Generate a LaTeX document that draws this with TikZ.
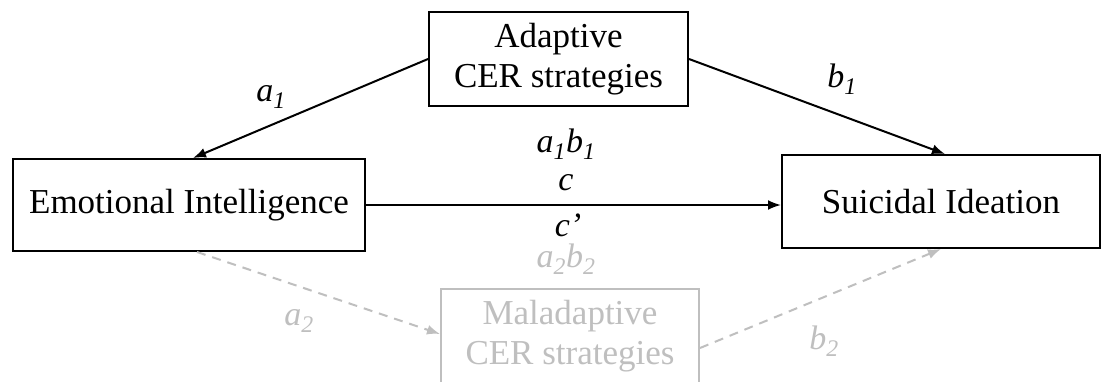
\documentclass[tikz,border=0pt]{standalone}
\usepackage{fontspec}
\setmainfont{Liberation Serif}
\usetikzlibrary{arrows.meta,calc}
\definecolor{lightg}{HTML}{BFBFBF}
\tikzset{
  box/.style={draw, line width=2pt, align=center, inner sep=0pt,
    font=\fontsize{35}{40}\selectfont},
  lbl/.style={inner sep=0pt, font=\fontsize{34}{40}\selectfont\itshape},
  solidarrow/.style={line width=2pt, -{Latex[length=13pt,width=10pt]}},
  grayarrow/.style={line width=2pt, lightg, dash pattern=on 9pt off 7pt, -{Latex[length=13pt,width=10pt]}},
}
\newcommand{\sbs}[1]{\textsubscript{\itshape #1}}
\begin{document}
\begin{tikzpicture}[x=1pt,y=-1pt]
\useasboundingbox (0,0) rectangle (1107,381);
\clip (0,0) rectangle (1107,381);
\fill[white] (0,0) rectangle (1107,381);
\node[box, minimum width=259pt, minimum height=94pt] (ad) at (558.5,59) {Adaptive\\CER strategies};
\node[box, minimum width=352pt, minimum height=92pt] (emo) at (189,205) {Emotional Intelligence};
\node[box, minimum width=318pt, minimum height=93pt] (sui) at (941,201.5) {Suicidal Ideation};
\node[box, draw=lightg, text=lightg, minimum width=258pt, minimum height=94pt] (mal) at (570,336) {Maladaptive\\CER strategies};
\draw[solidarrow] (ad.west) -- ($(emo.north)+(4,0)$);
\draw[solidarrow] (ad.east) -- ($(sui.north)+(4,0)$);
\draw[solidarrow] (emo.east) -- (emo.east -| sui.west);
\draw[grayarrow] ($(emo.south)+(8,0)$) -- ($(mal.west)+(0,-2)$);
\draw[grayarrow] ($(mal.east)+(0,12)$) -- (sui.south);
\node[lbl] (la1) at (271,97) {a\sbs{1}};
\node[lbl] (lb1) at (842,79) {b\sbs{1}};
\node[lbl] (la1b1) at (566,144) {a\sbs{1}b\sbs{1}};
\node[lbl] (lc) at (566,183) {c};
\node[lbl] (lcp) at (568,225) {c’};
\node[lbl, text=lightg] (la2b2) at (566,259) {a\sbs{2}b\sbs{2}};
\node[lbl, text=lightg] (la2) at (299,321) {a\sbs{2}};
\node[lbl, text=lightg] (lb2) at (824,341) {b\sbs{2}};
\end{tikzpicture}
\end{document}
